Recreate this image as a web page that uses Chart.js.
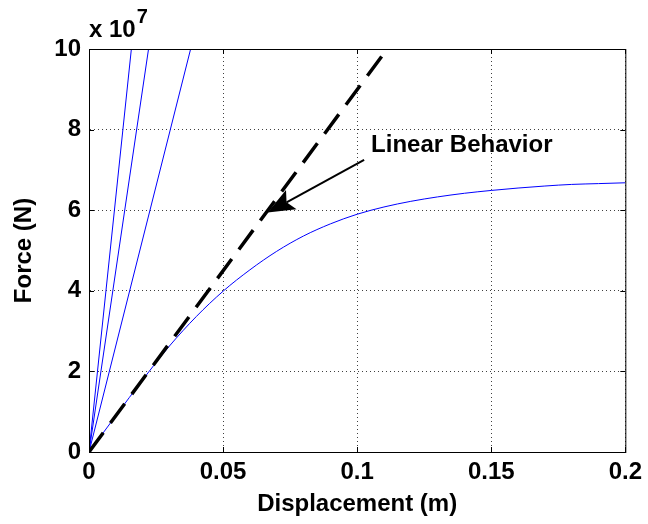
<!DOCTYPE html>
<html>
<head>
<meta charset="utf-8">
<script src="https://cdn.jsdelivr.net/npm/chart.js@4.4.0/dist/chart.umd.min.js"></script>
<style>
  html, body { margin: 0; padding: 0; background: #fff; }
  #wrap { width: 648px; height: 524px; }
</style>
</head>
<body>
<div id="wrap"><canvas id="forceChart"></canvas></div>
<script>
// Нелинейная кривая: перемещение (м) и сила (x 1e7 Н)
const dispValues  = [0, 0.01, 0.02, 0.03, 0.04, 0.05, 0.06, 0.07, 0.08, 0.09, 0.10,
                     0.11, 0.12, 0.13, 0.14, 0.15, 0.16, 0.17, 0.18, 0.19, 0.20];
const forceValues = [0, 0.90, 1.79, 2.63, 3.36, 3.99, 4.52, 4.98, 5.36, 5.66, 5.90,
                     6.08, 6.22, 6.33, 6.42, 6.49, 6.55, 6.60, 6.64, 6.66, 6.68];

// Жесткие прямые ветви: перемещение, при котором сила достигает 10 (x 1e7)
const stiffEnds = [0.0158, 0.0222, 0.0379];
const stiffTop = 10;

// Линейное поведение (пунктир)
const linearStart = [0, 0];
const linearEnd = [0.1112, 10];

// Оси
const xTicks = [0, 0.05, 0.1, 0.15, 0.2];
const yTicks = [0, 2, 4, 6, 8, 10];

// Подпись со стрелкой
const annotationText = 'Linear Behavior';
const labelPos = [0.1052, 7.62];
const arrowTail = [0.1026, 7.25];
const arrowTip = [0.0666, 5.94];

const FONT = '"Liberation Sans", Arial, sans-serif';

const curveData = dispValues.map((x, i) => ({ x: x, y: forceValues[i] }));

const stiffSets = stiffEnds.map(xe => ({
    data: [{ x: 0, y: 0 }, { x: xe, y: stiffTop }],
    showLine: true,
    borderColor: '#0000FF',
    borderWidth: 1,
    pointRadius: 0
}));

// Рамка, внутренние засечки, множитель и аннотация
const framePlugin = {
    id: 'frame',
    afterDraw(chart) {
        const ctx = chart.ctx;
        const a = chart.chartArea;
        const xs = chart.scales.x;
        const ys = chart.scales.y;
        ctx.save();
        ctx.strokeStyle = '#000';
        ctx.lineWidth = 1;
        ctx.setLineDash([]);
        ctx.strokeRect(a.left + 0.5, a.top + 0.5, a.right - a.left, a.bottom - a.top);

        // засечки внутрь
        const tl = 5;
        ctx.beginPath();
        xTicks.forEach(v => {
            const px = Math.round(xs.getPixelForValue(v)) + 0.5;
            ctx.moveTo(px, a.bottom); ctx.lineTo(px, a.bottom - tl);
            ctx.moveTo(px, a.top); ctx.lineTo(px, a.top + tl);
        });
        yTicks.forEach(v => {
            const py = Math.round(ys.getPixelForValue(v)) + 0.5;
            ctx.moveTo(a.left, py); ctx.lineTo(a.left + tl, py);
            ctx.moveTo(a.right, py); ctx.lineTo(a.right - tl, py);
        });
        ctx.stroke();

        // множитель x 10^7
        ctx.fillStyle = '#000';
        ctx.textBaseline = 'alphabetic';
        ctx.textAlign = 'left';
        ctx.font = 'bold 24px ' + FONT;
        ctx.fillText('x 10', a.left, 37);
        const w = ctx.measureText('x 10').width;
        ctx.font = 'bold 20px ' + FONT;
        ctx.fillText('7', a.left + w + 1, 23);

        // подпись
        ctx.font = 'bold 24px ' + FONT;
        ctx.textBaseline = 'middle';
        ctx.fillText(annotationText, xs.getPixelForValue(labelPos[0]), ys.getPixelForValue(labelPos[1]));

        // стрелка
        const x0 = xs.getPixelForValue(arrowTail[0]), y0 = ys.getPixelForValue(arrowTail[1]);
        const x1 = xs.getPixelForValue(arrowTip[0]), y1 = ys.getPixelForValue(arrowTip[1]);
        const ang = Math.atan2(y1 - y0, x1 - x0);
        const hl = 27, hw = 11;
        const bx = x1 - hl * Math.cos(ang), by = y1 - hl * Math.sin(ang);
        const ix = x1 - hl * 0.8 * Math.cos(ang), iy = y1 - hl * 0.8 * Math.sin(ang);
        ctx.lineWidth = 2;
        ctx.beginPath();
        ctx.moveTo(x0, y0);
        ctx.lineTo(ix, iy);
        ctx.stroke();
        ctx.beginPath();
        ctx.moveTo(x1, y1);
        ctx.lineTo(bx + hw * Math.sin(ang), by - hw * Math.cos(ang));
        ctx.lineTo(ix, iy);
        ctx.lineTo(bx - hw * Math.sin(ang), by + hw * Math.cos(ang));
        ctx.closePath();
        ctx.fill();
        ctx.restore();
    }
};

Chart.defaults.font.family = FONT;
Chart.defaults.color = '#000';

const forceChart = new Chart(
    document.getElementById('forceChart'),
    {
        type: 'scatter',
        data: {
            datasets: [
                {
                    data: [{ x: linearStart[0], y: linearStart[1] }, { x: linearEnd[0], y: linearEnd[1] }],
                    showLine: true,
                    borderColor: '#000',
                    borderWidth: 3.5,
                    borderDash: [24, 12],
                    pointRadius: 0
                },
                {
                    data: curveData,
                    showLine: true,
                    borderColor: '#0000FF',
                    borderWidth: 1,
                    cubicInterpolationMode: 'monotone',
                    pointRadius: 0
                },
                ...stiffSets
            ]
        },
        options: {
            responsive: true,
            maintainAspectRatio: false,
            animation: false,
            layout: {
                padding: { left: 0, top: 49, right: 21, bottom: 0 }
            },
            plugins: {
                legend: { display: false },
                tooltip: { enabled: false }
            },
            scales: {
                x: {
                    type: 'linear',
                    min: 0,
                    max: 0.2,
                    afterBuildTicks: s => { s.ticks = xTicks.map(v => ({ value: v })); },
                    afterFit: s => { s.height = 72; },
                    grid: {
                        color: 'rgba(0,0,0,0.75)',
                        lineWidth: 1,
                        drawTicks: false
                    },
                    border: { display: true, color: '#000', width: 1, dash: [1, 3] },
                    ticks: {
                        padding: 6,
                        maxRotation: 0,
                        font: { size: 24, weight: 'bold' },
                        callback: v => String(+v.toFixed(2))
                    },
                    title: {
                        display: true,
                        text: 'Displacement (m)',
                        font: { size: 24, weight: 'bold' },
                        padding: { top: 0, bottom: 5 }
                    }
                },
                y: {
                    type: 'linear',
                    min: 0,
                    max: 10,
                    afterBuildTicks: s => { s.ticks = yTicks.map(v => ({ value: v })); },
                    afterFit: s => { s.width = 89; },
                    grid: {
                        color: 'rgba(0,0,0,0.75)',
                        lineWidth: 1,
                        drawTicks: false
                    },
                    border: { display: true, color: '#000', width: 1, dash: [1, 3] },
                    ticks: {
                        padding: 8,
                        font: { size: 24, weight: 'bold' }
                    },
                    title: {
                        display: true,
                        text: 'Force (N)',
                        font: { size: 24, weight: 'bold' },
                        padding: { top: 10, bottom: 0 }
                    }
                }
            }
        },
        plugins: [framePlugin]
    }
);
</script>
</body>
</html>
